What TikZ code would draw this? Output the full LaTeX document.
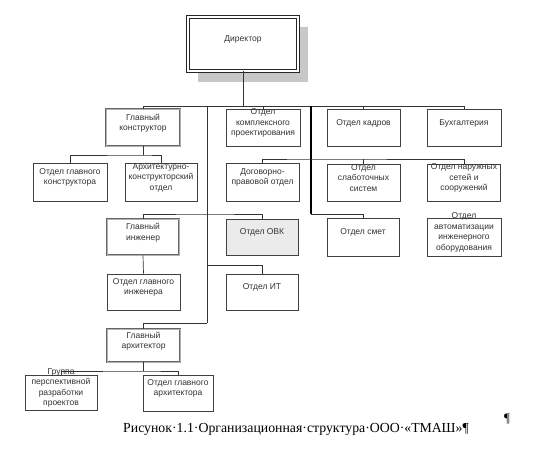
\documentclass[tikz,border=0pt]{standalone}
\usepackage{fontspec}
\setmainfont{Liberation Sans}
\newfontfamily\capfont{Liberation Serif}
\definecolor{shad}{HTML}{C8C8C8}
\definecolor{ovkfill}{HTML}{EBEBEB}
\newcommand\obox[6][]{\node[box,#1,minimum width=#4,minimum height=#5,label={[txt]center:{#6}}] (#2) at (#3) {};}
\tikzset{
  box/.style={draw=black!75, line width=0.7pt, fill=white, inner sep=0pt},
  chief/.style={draw=black!60, double=black!30, double distance=1pt, line width=0.8pt},
  boss/.style={draw=black!85, double=white, double distance=1.4pt, line width=0.9pt},
  txt/.style={align=center, font=\fontsize{8.5}{10.5}\selectfont, text=black!80, inner sep=0pt, yshift=4.5pt},
  conn/.style={draw=black!80, line width=0.7pt},
  trunk/.style={draw=black, line width=1.6pt}
}
\begin{document}
\begin{tikzpicture}[x=1pt,y=-1pt]
\useasboundingbox[fill=white] (0,0) rectangle (534,460);
% director
\fill[shad] (198,27) rectangle (308,82);
\obox[boss]{dir}{243,44}{110pt}{54pt}{Директор}
% first row
\obox[chief]{gk}{143,127.5}{74pt}{37pt}{Главный\\конструктор}
\obox{okp}{263,127.5}{74pt}{37pt}{Отдел\\комплексного\\проектирования}
\obox{ok}{363.5,127.5}{73pt}{37pt}{Отдел кадров}
\obox{b}{464,127.5}{74pt}{37pt}{Бухгалтерия}
% second row
\obox{ogk}{70,182}{74pt}{38pt}{Отдел главного\\конструктора}
\obox{ako}{161,182}{72pt}{38pt}{Архитектурно-\\конструкторский\\отдел}
\obox{dpo}{262.5,182}{73pt}{38pt}{Договорно-\\правовой отдел}
\obox{oss}{363.5,182.5}{73pt}{37pt}{Отдел\\слаботочных\\систем}
\obox{ons}{464,182.5}{73pt}{37pt}{Отдел наружных\\сетей и\\сооружений}
% third row
\obox[chief]{gi}{143,237}{72pt}{36pt}{Главный\\инженер}
\obox[fill=ovkfill]{ovk}{262,237}{72pt}{36pt}{Отдел ОВК}
\obox{os}{363,237}{72pt}{38pt}{Отдел смет}
\obox{oa}{464,237}{74pt}{38pt}{Отдел\\автоматизации\\инженерного\\оборудования}
% fourth row
\obox{ogi}{143.5,292}{73pt}{36pt}{Отдел главного\\инженера}
\obox{oit}{262,292}{72pt}{36pt}{Отдел ИТ}
% architect
\obox[chief]{ga}{143.5,345.5}{73pt}{33pt}{Главный\\архитектор}
\obox{gp}{61,392.5}{72pt}{35pt}{Группа\\перспективной\\разработки\\проектов}
\obox{oga}{178,393}{70pt}{36pt}{Отдел главного\\архитектора}
% coordinates
\coordinate (bus) at (243,106);
\coordinate (lt) at (207,106);
\coordinate (ltb) at (207,323);
\coordinate (rt) at (311,106);
\coordinate (rtb) at (311,214);
\coordinate (r2) at (311,159);
\coordinate (gkb) at (143,155);
\coordinate (r3l) at (207,214);
\coordinate (r4) at (207,265);
\coordinate (gab) at (143.5,371);
% connectors
\draw[conn] (dir.south) -- (bus);
\draw[conn] (gk.north) |- (b.north |- bus) -- (b.north);
\draw[conn] (okp.north) -- (okp.north |- bus);
\draw[conn] (ok.north) -- (ok.north |- bus);
\draw[conn] (lt) -- (ltb);
\draw[trunk] (rt) -- (rtb);
\draw[conn] (gk.south) -- (gkb);
\draw[conn] (ogk.north) |- (gkb) -| (ako.north);
\draw[conn] (dpo.north) |- (r2) -| (ons.north);
\draw[conn] (oss.north) -- (oss.north |- r2);
\draw[conn] (gi.north) |- (r3l) -| (ovk.north);
\draw[conn] (rtb) -| (os.north);
\draw[conn] (r4) -| (oit.north);
\draw[conn] (gi.south) -- (ogi.north);
\draw[conn] (ga.north) |- (ltb);
\draw[conn] (ga.south) -- (gab);
\draw[conn] (gp.north) |- (gab) -| (oga.north);
% caption
\node[anchor=base west, inner sep=0pt, font=\capfont\fontsize{13.8}{16}\selectfont] (cap) at (123,432) {Рисунок·1.1·Организационная·структура·ООО·«ТМАШ»¶};
\node[anchor=base west, inner sep=0pt, font=\capfont\fontsize{13}{15}\selectfont] (pil) at (504,422) {¶};
\end{tikzpicture}
\end{document}
